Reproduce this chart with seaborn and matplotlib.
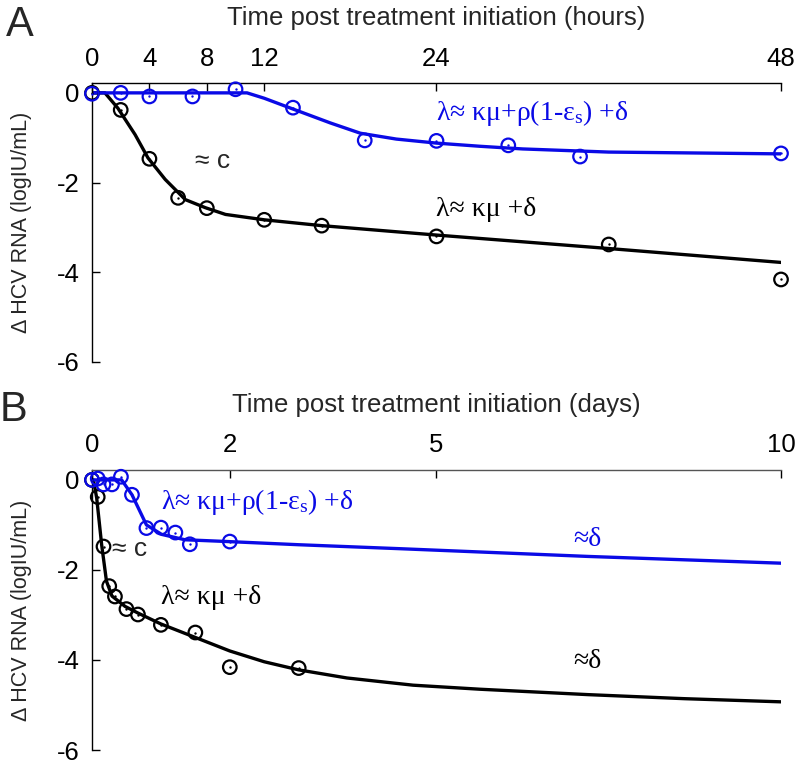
import matplotlib
matplotlib.use("Agg")
import matplotlib.pyplot as plt
import seaborn as sns

# ---- panel A : hours ----
a_black_t = [0, 2, 4, 6, 8, 12, 16, 24, 36, 48]
a_black_v = [0, -0.38, -1.47, -2.34, -2.57, -2.83, -2.96, -3.2, -3.38, -4.16]
a_blue_t = [0, 2, 4, 7, 10, 14, 19, 24, 29, 34, 48]
a_blue_v = [-0.02, 0.0, -0.08, -0.08, 0.08, -0.33, -1.06, -1.07, -1.17, -1.42, -1.35]

a_black_fit_t = [0, 0.9, 1.8, 3, 3.9, 5.1, 6.5, 7.9, 9.3, 12, 16, 24, 36, 48]
a_black_fit_v = [0, 0, -0.34, -0.93, -1.45, -1.93, -2.38, -2.56, -2.71, -2.83, -2.96, -3.17, -3.47, -3.78]
a_blue_fit_t = [0, 10.8, 12, 14, 16.6, 18.7, 21.2, 24, 27, 30, 36, 48]
a_blue_fit_v = [0, 0, -0.12, -0.36, -0.67, -0.9, -1.03, -1.12, -1.19, -1.25, -1.32, -1.36]

a_xticks = [0, 4, 8, 12, 24, 48]

# ---- panel B : days ----
b_black_t = [0, 0.083, 0.167, 0.25, 0.333, 0.5, 0.667, 1, 1.5, 2, 3]
b_black_v = [0, -0.38, -1.48, -2.36, -2.59, -2.87, -2.99, -3.22, -3.39, -4.16, -4.18]
b_blue_t = [0, 0.083, 0.167, 0.29, 0.42, 0.58, 0.79, 1.0, 1.21, 1.42, 2.0]
b_blue_v = [0, 0.03, -0.1, -0.1, 0.07, -0.33, -1.07, -1.06, -1.17, -1.43, -1.37]

b_black_fit_t = [0, 0.02, 0.068, 0.14, 0.21, 0.29, 0.48, 0.67, 1.0, 1.5, 2.0, 2.5, 3.0,
                 3.7, 4.66, 5.63, 7.2, 8.6, 10]
b_black_fit_v = [0, 0, -0.4, -1.44, -2.25, -2.58, -2.81, -2.96, -3.2, -3.5, -3.8, -4.04, -4.22,
                 -4.4, -4.56, -4.65, -4.77, -4.86, -4.93]
b_blue_fit_t = [0, 0.43, 0.58, 0.79, 1.01, 1.35, 1.98, 3, 4.5, 7.2, 10]
b_blue_fit_v = [0, 0, -0.33, -1.0, -1.21, -1.33, -1.37, -1.44, -1.53, -1.7, -1.85]

b_xticks = [0, 2, 5, 10]
yticks = [-6, -4, -2, 0]

BLUE = "#0a0ae6"
BLACK = "black"

sns.set_theme(style="ticks")
plt.rcParams["font.family"] = ["Liberation Sans", "DejaVu Sans"]
plt.rcParams["mathtext.fontset"] = "custom"
plt.rcParams["mathtext.rm"] = "Liberation Serif"
plt.rcParams["mathtext.it"] = "Liberation Serif"
plt.rcParams["axes.unicode_minus"] = False

fig = plt.figure(figsize=(7.96, 7.6), dpi=100)
ax_a = fig.add_axes([92 / 796, 1 - 362 / 760, 689 / 796, 279 / 760])
ax_b = fig.add_axes([92 / 796, 1 - 750 / 760, 689 / 796, 280 / 760])

serif = ["Liberation Serif", "DejaVu Serif"]


def draw_panel(ax, fits, points, xmax, xticks, xlabel, spine_col):
    for (t, v), col in fits:
        sns.lineplot(x=t, y=v, ax=ax, color=col, lw=2.4, sort=False,
                     estimator=None, zorder=2)
    for (t, v), col in points:
        sns.scatterplot(x=t, y=v, ax=ax, s=95, marker="o", facecolors="none",
                        edgecolor=col, linewidth=1.6, zorder=3, clip_on=False)
        sns.scatterplot(x=t, y=v, ax=ax, s=3, color=col, linewidth=0,
                        zorder=4, clip_on=False)
    ax.set_xlim(0, xmax)
    ax.set_ylim(-6, 0.22)
    ax.set_xticks(xticks)
    ax.set_yticks(yticks)
    ax.xaxis.tick_top()
    ax.xaxis.set_label_position("top")
    ax.tick_params(direction="in", length=6, width=1, labelsize=18.5, pad=9,
                   colors="black")
    for s in ["right", "bottom"]:
        ax.spines[s].set_visible(False)
    ax.spines["left"].set_color("black")
    ax.spines["top"].set_color(spine_col)
    ax.spines["left"].set_linewidth(1)
    ax.spines["top"].set_linewidth(1)
    ax.set_xlabel(xlabel, fontsize=18.5)
    ax.xaxis.label.set_va("center")
    ax.xaxis.set_label_coords(0.5, 1 + 65 / 279)
    ax.set_ylabel("Δ HCV RNA (logIU/mL)", fontsize=15.5)
    ax.yaxis.label.set_va("center")
    ax.yaxis.set_label_coords(-71 / 689, 0.5)


draw_panel(ax_a,
           [((a_black_fit_t, a_black_fit_v), BLACK), ((a_blue_fit_t, a_blue_fit_v), BLUE)],
           [((a_black_t, a_black_v), BLACK), ((a_blue_t, a_blue_v), BLUE)],
           48, a_xticks, "Time post treatment initiation (hours)", "black")
draw_panel(ax_b,
           [((b_black_fit_t, b_black_fit_v), BLACK), ((b_blue_fit_t, b_blue_fit_v), BLUE)],
           [((b_black_t, b_black_v), BLACK), ((b_blue_t, b_blue_v), BLUE)],
           10, b_xticks, "Time post treatment initiation (days)", "#555555")

blue_lab = r"λ≈ κμ+ρ(1-ε$_{\rm s}$) +δ"
black_lab = "λ≈ κμ +δ"

ax_a.text(7.2, -1.53, "≈ c", fontsize=19, ha="left", va="center")
ax_a.text(24, -0.45, blue_lab, fontsize=20, color=BLUE, ha="left", va="center", family=serif)
ax_a.text(24, -2.6, black_lab, fontsize=20, color=BLACK, ha="left", va="center", family=serif)

ax_b.text(0.29, -1.53, "≈ c", fontsize=19, ha="left", va="center")
ax_b.text(1.0, -0.48, blue_lab, fontsize=20, color=BLUE, ha="left", va="center", family=serif)
ax_b.text(1.0, -2.62, black_lab, fontsize=20, color=BLACK, ha="left", va="center", family=serif)
ax_b.text(7.19, -1.33, "≈δ", fontsize=20, color=BLUE, ha="center", va="center", family=serif)
ax_b.text(7.19, -4.04, "≈δ", fontsize=20, color=BLACK, ha="center", va="center", family=serif)

fig.text(20 / 796, 1 - 25 / 760, "A", fontsize=30, ha="center", va="center")
fig.text(13 / 796, 1 - 410 / 760, "B", fontsize=30, ha="center", va="center")

fig.savefig("out.png", dpi=100)
